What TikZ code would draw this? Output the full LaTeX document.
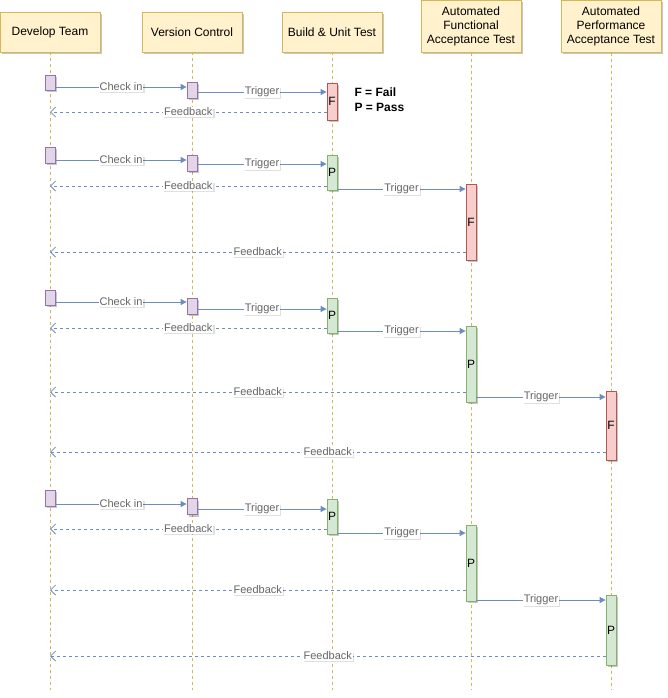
\documentclass[tikz,border=0pt]{standalone}
\usepackage{fontspec}
\setmainfont{Liberation Sans}
\usetikzlibrary{arrows.meta,shadows,calc}
\definecolor{hdrfill}{HTML}{FFF2CC}
\definecolor{hdrline}{HTML}{D6B656}
\definecolor{purfill}{HTML}{E1D5E7}
\definecolor{purline}{HTML}{9673A6}
\definecolor{redfill}{HTML}{F8CECC}
\definecolor{redline}{HTML}{B85450}
\definecolor{grnfill}{HTML}{D5E8D4}
\definecolor{grnline}{HTML}{82B366}
\definecolor{msgline}{HTML}{6C8EBF}
\definecolor{lbltext}{HTML}{666666}
\begin{document}
\begin{tikzpicture}[x=1pt,y=-1pt,
  shd/.style={drop shadow={shadow xshift=2pt,shadow yshift=-2pt,opacity=0.22,fill=black}},
  hdr/.style={shd,draw=hdrline,fill=hdrfill,line width=0.8pt,minimum width=100pt,minimum height=40pt,inner sep=0pt,align=center,font=\fontsize{12}{14}\selectfont},
  hdrtall/.style={hdr,minimum height=52pt},
  life/.style={draw=hdrline,line width=0.7pt,dash pattern=on 3pt off 3pt},
  actbox/.style={shd,minimum width=10pt,inner sep=0pt,line width=0.8pt,font=\fontsize{12}{14}\selectfont},
  purbox/.style={actbox,draw=purline,fill=purfill},
  failbox/.style={actbox,draw=redline,fill=redfill},
  passbox/.style={actbox,draw=grnline,fill=grnfill},
  msg/.style={draw=msgline,line width=0.8pt,-{Triangle[length=6pt,width=6pt]}},
  fb/.style={draw=msgline,line width=0.8pt,dash pattern=on 3pt off 3pt,-{Straight Barb[length=5pt,width=10pt]}},
  lbl/.style={fill=white,text=lbltext,font=\fontsize{11}{13}\selectfont,inner xsep=1pt,inner ysep=0.5pt,
    drop shadow={shadow xshift=1.2pt,shadow yshift=-1.2pt,opacity=0.12,fill=black}}
]
\fill[white] (0,0) rectangle (667,698);
\useasboundingbox (0,0) rectangle (667,698);

% headers
\node[hdr] (h1) at (50,32) {Develop Team};
\node[hdr] (h2) at (192,32) {Version Control};
\node[hdr] (h3) at (332,32) {Build \& Unit Test};
\node[hdrtall] (h4) at (471,26.5) {Automated\\Functional\\Acceptance Test};
\node[hdrtall] (h5) at (611,26.5) {Automated\\Performance\\Acceptance Test};

% lifelines
\coordinate (e1) at (50,690);
\coordinate (e2) at (192,690);
\coordinate (e3) at (332,690);
\coordinate (e4) at (471,690);
\coordinate (e5) at (611,690);
\draw[life] (h1.south) -- (e1);
\draw[life] (h2.south) -- (e2);
\draw[life] (h3.south) -- (e3);
\draw[life] (h4.south) -- (e4);
\draw[life] (h5.south) -- (e5);

% ---------- row 1
\node[purbox,minimum height=15pt] (d1) at (50,82.5) {};
\node[purbox,minimum height=16pt] (v1) at (192,90) {};
\node[failbox,minimum height=37pt] (b1) at (332,101.5) {F};
\node[anchor=west,align=left,font=\bfseries\fontsize{12}{15}\selectfont] (lg) at (351,99.5) {F = Fail\\P = Pass};
\draw[msg] (d1.east |- 0,87) -- node[lbl]{Check in} (v1.west |- 0,87);
\draw[msg] (v1.east |- 0,92) -- node[lbl]{Trigger} (b1.west |- 0,92);
\draw[fb] (b1.west |- 0,112) -- node[lbl]{Feedback} (h1.south |- 0,112);

% ---------- row 2
\node[purbox,minimum height=16pt] (d2) at (50,155) {};
\node[purbox,minimum height=16pt] (v2) at (192,163) {};
\node[passbox,minimum height=35pt] (b2) at (332,172.5) {P};
\node[failbox,minimum height=76pt] (f2) at (471,222) {F};
\draw[msg] (d2.east |- 0,160) -- node[lbl]{Check in} (v2.west |- 0,160);
\draw[msg] (v2.east |- 0,164) -- node[lbl]{Trigger} (b2.west |- 0,164);
\draw[fb] (b2.west |- 0,186) -- node[lbl]{Feedback} (h1.south |- 0,186);
\draw[msg] (b2.east |- 0,189) -- node[lbl]{Trigger} (f2.west |- 0,189);
\draw[fb] (f2.west |- 0,252) -- node[lbl]{Feedback} (h1.south |- 0,252);

% ---------- row 3
\node[purbox,minimum height=15pt] (d3) at (50,297.5) {};
\node[purbox,minimum height=16pt] (v3) at (192,306) {};
\node[passbox,minimum height=35pt] (b3) at (332,315.5) {P};
\node[passbox,minimum height=76pt] (f3) at (471,364) {P};
\node[failbox,minimum height=69pt] (p3) at (611,425.5) {F};
\draw[msg] (d3.east |- 0,302) -- node[lbl]{Check in} (v3.west |- 0,302);
\draw[msg] (v3.east |- 0,309) -- node[lbl]{Trigger} (b3.west |- 0,309);
\draw[fb] (b3.west |- 0,328) -- node[lbl]{Feedback} (h1.south |- 0,328);
\draw[msg] (b3.east |- 0,331) -- node[lbl]{Trigger} (f3.west |- 0,331);
\draw[fb] (f3.west |- 0,392) -- node[lbl]{Feedback} (h1.south |- 0,392);
\draw[msg] (f3.east |- 0,397) -- node[lbl]{Trigger} (p3.west |- 0,397);
\draw[fb] (p3.west |- 0,452) -- node[lbl]{Feedback} (h1.south |- 0,452);

% ---------- row 4
\node[purbox,minimum height=16pt] (d4) at (50,498) {};
\node[purbox,minimum height=16pt] (v4) at (192,506.5) {};
\node[passbox,minimum height=35pt] (b4) at (332,516.5) {P};
\node[passbox,minimum height=76pt] (f4) at (471,563) {P};
\node[passbox,minimum height=70pt] (p4) at (611,630) {P};
\draw[msg] (d4.east |- 0,504) -- node[lbl]{Check in} (v4.west |- 0,504);
\draw[msg] (v4.east |- 0,509) -- node[lbl]{Trigger} (b4.west |- 0,509);
\draw[fb] (b4.west |- 0,529) -- node[lbl]{Feedback} (h1.south |- 0,529);
\draw[msg] (b4.east |- 0,533) -- node[lbl]{Trigger} (f4.west |- 0,533);
\draw[fb] (f4.west |- 0,590) -- node[lbl]{Feedback} (h1.south |- 0,590);
\draw[msg] (f4.east |- 0,600) -- node[lbl]{Trigger} (p4.west |- 0,600);
\draw[fb] (p4.west |- 0,656) -- node[lbl]{Feedback} (h1.south |- 0,656);
\end{tikzpicture}
\end{document}
